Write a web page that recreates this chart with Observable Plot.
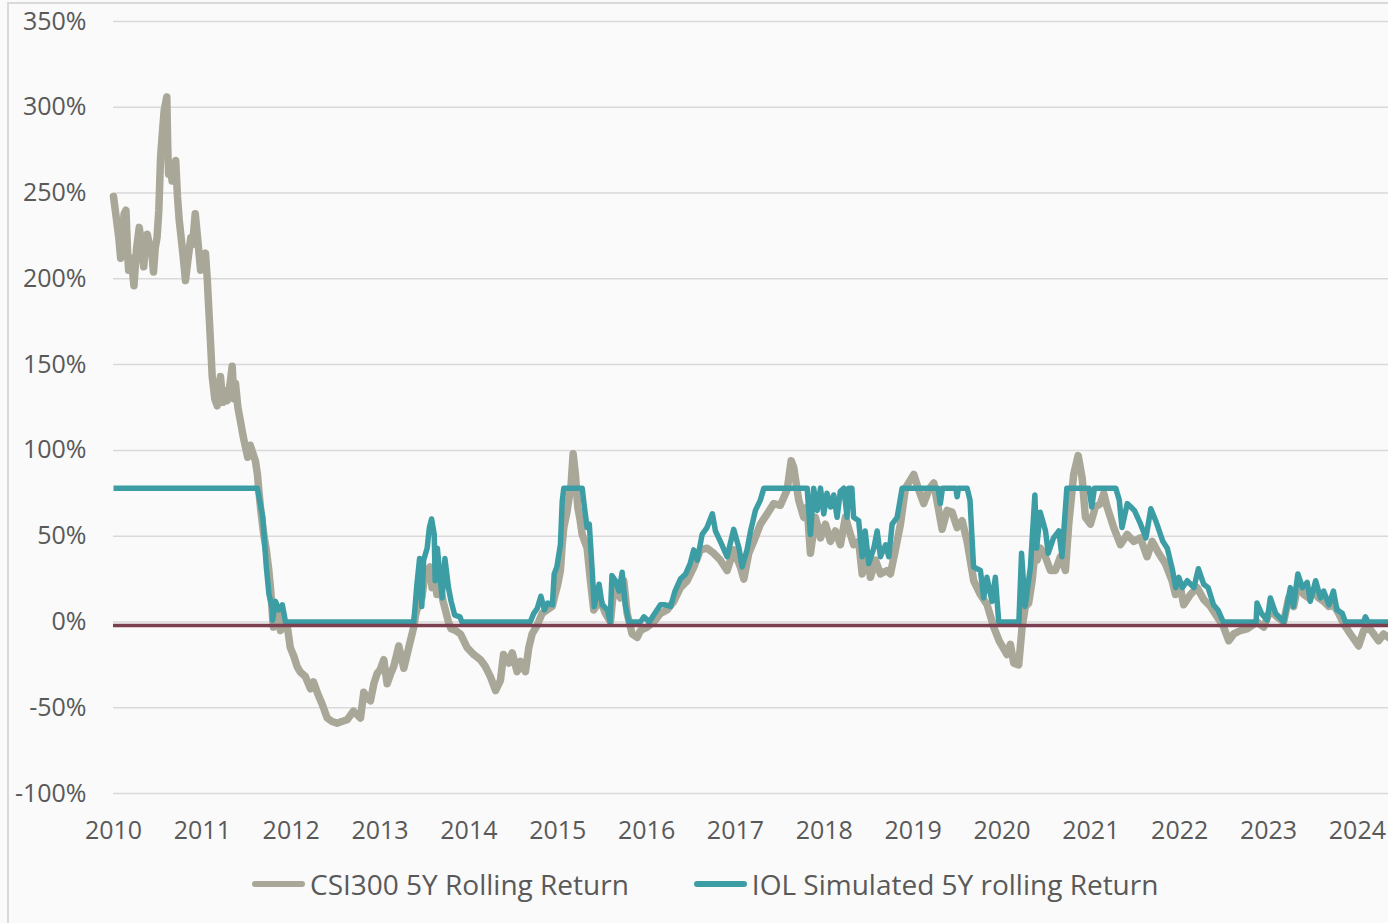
<!DOCTYPE html>
<html><head><meta charset="utf-8">
<script src="https://cdn.jsdelivr.net/npm/d3@7"></script>
<script src="https://cdn.jsdelivr.net/npm/@observablehq/plot@0.6"></script>
<style>
html,body{margin:0;padding:0;background:#fafafa;width:1388px;height:923px;overflow:hidden;font-family:"Open Sans",sans-serif;}
#frame-left{position:absolute;left:7px;top:3px;width:2px;height:920px;background:#d9d9d9}
#frame-top{position:absolute;left:7px;top:2px;width:1381px;height:2px;background:#d9d9d9}
#chart{position:absolute;left:0;top:0}
#legend{position:absolute;top:866px;left:252px;display:flex;align-items:center;font-size:28px;color:#595959;height:36px;white-space:nowrap}
.sw{width:53px;height:6px;border-radius:3px;margin-right:5px}
</style></head>
<body>
<div id="frame-left"></div><div id="frame-top"></div>
<div id="chart"></div>
<div id="legend"></div>
<script>
const seriesNames = ["CSI300 5Y Rolling Return", "IOL Simulated 5Y rolling Return"];
const yTicks = [-100, -50, 0, 50, 100, 150, 200, 250, 300, 350];
const yearTicks = [2010,2011,2012,2013,2014,2015,2016,2017,2018,2019,2020,2021,2022,2023,2024];
const baseline = [-2];

const csiYears = [
2010.00,2010.02,2010.04,2010.06,2010.08,2010.10,2010.12,2010.14,2010.16,2010.17,2010.20,2010.23,2010.26,2010.29,2010.31,2010.34,2010.36,2010.38,2010.41,2010.43,2010.45,2010.47,2010.49,2010.51,2010.53,2010.55,2010.57,2010.60,2010.61,2010.62,2010.64,2010.66,2010.68,2010.70,2010.72,2010.74,2010.77,2010.79,2010.81,2010.84,2010.87,2010.89,2010.92,2010.95,2010.98,
2011.01,2011.035,2011.055,2011.072,2011.09,2011.111,2011.14,2011.167,2011.19,2011.204,2011.23,2011.25,2011.28,2011.31,2011.336,2011.355,2011.373,2011.40,2011.429,2011.46,2011.485,2011.51,2011.54,2011.57,2011.597,2011.62,2011.635,2011.66,2011.691,2011.72,2011.748,2011.77,2011.79,2011.80,2011.82,2011.84,2011.86,2011.88,2011.90,2011.93,2011.96,2011.99,
2012.03,2012.067,2012.10,2012.161,2012.217,2012.251,2012.30,2012.349,2012.405,2012.46,2012.517,2012.57,2012.63,2012.70,2012.74,2012.78,2012.817,2012.85,2012.892,2012.93,2012.968,
2013.00,2013.042,2013.08,2013.12,2013.154,2013.211,2013.267,2013.323,2013.379,2013.40,2013.43,2013.45,2013.47,2013.50,2013.53,2013.56,2013.585,2013.61,2013.64,2013.67,2013.71,2013.74,2013.77,2013.80,2013.85,2013.905,2013.98,
2014.055,2014.13,2014.186,2014.243,2014.30,2014.355,2014.39,2014.45,2014.487,2014.543,2014.58,2014.636,2014.674,2014.712,2014.768,2014.824,2014.88,2014.937,2014.97,
2015.00,2015.03,2015.05,2015.068,2015.10,2015.124,2015.15,2015.173,2015.199,2015.225,2015.25,2015.275,2015.331,2015.368,2015.405,2015.44,2015.481,2015.537,2015.593,2015.63,2015.706,2015.743,2015.781,2015.837,2015.894,2015.931,
2016.006,2016.081,2016.156,2016.231,2016.306,2016.381,2016.456,2016.531,2016.606,2016.681,2016.756,2016.831,2016.906,2016.981,
2017.056,2017.094,2017.15,2017.206,2017.281,2017.357,2017.431,2017.506,2017.582,2017.627,2017.656,2017.712,2017.768,2017.807,2017.844,2017.90,2017.957,
2018.012,2018.069,2018.125,2018.181,2018.238,2018.294,2018.331,2018.387,2018.426,2018.482,2018.519,2018.576,2018.632,2018.707,2018.744,2018.80,2018.857,2018.913,
2019.007,2019.063,2019.119,2019.175,2019.232,2019.288,2019.326,2019.382,2019.438,2019.495,2019.551,2019.607,2019.682,2019.757,2019.832,2019.907,2019.968,
2020.057,2020.094,2020.132,2020.188,2020.226,2020.263,2020.30,2020.339,2020.37,2020.395,2020.432,2020.488,2020.545,2020.601,2020.657,2020.714,2020.751,2020.807,2020.857,2020.902,2020.939,2020.995,
2021.051,2021.108,2021.145,2021.183,2021.258,2021.333,2021.408,2021.483,2021.558,2021.633,2021.69,2021.764,2021.839,2021.915,2021.952,
2022.008,2022.045,2022.121,2022.196,2022.271,2022.346,2022.421,2022.495,2022.552,2022.608,2022.683,2022.758,2022.814,2022.871,2022.945,
2023.02,2023.095,2023.17,2023.227,2023.283,2023.339,2023.396,2023.452,2023.508,2023.564,2023.621,2023.677,2023.733,2023.789,2023.845,2023.92,
2024.014,2024.07,2024.127,2024.183,2024.239,2024.295,2024.35];
const csiValues = [
248,240,232,224,212,226,238,240,214,205,212,196,218,230,222,207,220,226,218,216,204,218,224,240,271,285,298,306,278,261,265,257,265,269,248,234,220,210,199,212,224,220,238,222,205,
212,215,200,183,165,143,130,126,138,143,128,135,129,138,149,130,139,125,117,108,102,96,103,98,94,86,77,64,51,42,30,18,3,-3,7,4,1,-5,5,-3,-4,-15,
-20,-26,-29,-32,-39,-35,-42,-48,-56,-58,-59,-58,-57,-52,-54,-56,-41,-44,-46,-36,-30,
-28,-22,-36,-30,-26,-14,-27,-15,-3,4,10,18,14,26,30,32,20,26,16,22,12,6,0,-4,-5,-7,-15,
-19,-22,-26,-32,-40,-34,-19,-24,-18,-29,-23,-29,-15,-7,-2,5,7,9,16,
22,30,45,55,63,71,80,98,86,67,60,51,43,24,7,10,12,5,0,20,14,24,5,-7,-9,-5,
-3,0,5,7,12,20,24,32,42,43,40,36,30,42,
32,25,40,47,57,63,69,68,77,94,90,71,61,67,40,61,49,
57,47,53,45,61,51,45,47,28,40,26,36,28,30,28,42,57,78,
86,77,69,77,81,65,54,65,64,55,59,47,24,16,10,-3,-11,
-19,-13,-24,-25,-3,9,11,24,40,36,43,38,30,30,38,30,57,86,97,84,61,57,
67,69,75,67,55,45,51,47,49,38,47,40,34,24,16,
20,10,16,20,13,9,3,-3,-11,-7,-5,-4,-2,0,-3,
7,3,0,14,9,24,16,14,18,14,12,9,10,5,-1,-7,
-14,-5,-3,-7,-11,-7,-9];

const iolYears = [
2010.00,2011.62,2011.68,2011.72,2011.75,2011.786,2011.79,2011.823,2011.86,2011.90,2011.936,
2013.38,2013.415,2013.445,2013.47,2013.49,2013.53,2013.555,2013.58,2013.61,2013.62,2013.645,2013.675,2013.70,2013.73,2013.77,2013.80,2013.84,2013.90,2013.92,
2014.69,2014.73,2014.77,2014.81,2014.85,2014.885,2014.94,2014.96,2014.99,2015.03,2015.05,2015.068,
2015.275,2015.30,2015.33,2015.355,2015.39,2015.41,2015.465,2015.50,2015.56,2015.59,2015.61,2015.65,2015.69,2015.725,2015.76,2015.80,2015.93,2015.97,
2016.03,2016.08,2016.156,2016.21,2016.27,2016.32,2016.38,2016.44,2016.49,2016.53,2016.57,2016.625,2016.68,2016.74,2016.775,2016.83,2016.906,2016.98,
2017.04,2017.075,2017.13,2017.17,2017.225,2017.28,2017.32,2017.807,2017.844,2017.88,2017.92,2017.957,2017.994,
2018.03,2018.07,2018.106,2018.144,2018.18,2018.22,2018.256,2018.275,2018.31,2018.33,2018.387,2018.426,2018.46,2018.50,2018.557,2018.595,2018.632,2018.69,2018.726,2018.763,2018.82,2018.876,
2019.28,2019.306,2019.33,2019.48,2019.495,2019.51,2019.607,2019.64,2019.68,2019.757,2019.794,2019.83,2019.888,2019.925,2019.963,
2020.19,2020.22,2020.26,2020.32,2020.37,2020.39,2020.43,2020.49,2020.52,2020.58,2020.64,2020.675,2020.73,2020.98,
2021.01,2021.04,2021.28,2021.32,2021.35,2021.41,2021.49,2021.56,2021.62,2021.675,2021.73,2021.81,2021.86,2021.92,2021.955,2021.99,
2022.03,2022.085,2022.16,2022.21,2022.27,2022.32,2022.38,2022.43,2022.49,2022.86,2022.87,2022.92,2022.985,
2023.02,2023.08,2023.17,2023.21,2023.245,2023.28,2023.33,2023.38,2023.435,2023.47,2023.53,2023.585,2023.62,2023.68,2023.73,2023.77,2023.83,2023.865,
2024.07,2024.09,2024.12,2024.35];
const iolValues = [
78,78,61,32,16,8,1,12,7,10,0,
0,22,37,9,36,43,55,60,51,24,43,26,14,37,20,12,4,3,0,
0,5,8,15,7,11,10,28,32,45,70,78,
78,67,55,57,28,9,22,10,7,0,27,24,18,29,10,0,0,3,
0,4,10,10,9,18,25,28,34,42,36,51,55,63,53,47,38,54,
43,32,42,53,65,71,78,78,51,78,65,78,63,
75,67,74,61,76,78,61,78,78,61,59,38,53,34,43,53,38,45,38,57,61,78,
78,69,78,78,73,78,78,71,32,30,14,26,12,26,0,
0,40,9,32,74,43,64,53,40,49,53,38,78,78,
67,78,78,71,55,69,65,57,49,66,59,47,43,30,20,26,
20,24,20,31,22,20,10,7,0,0,11,5,1,
14,5,0,10,20,9,28,20,23,12,24,14,18,10,18,7,5,0,
0,3,0,0];

const csiRows = csiYears.map((y, i) => ({year: y, value: csiValues[i]}));
const iolRows = iolYears.map((y, i) => ({year: y, value: iolValues[i]}));

const grey = "#a9a797", teal = "#3c9ea4";

const chart = Plot.plot({
  width: 1388, height: 860,
  marginLeft: 113, marginRight: 0, marginTop: 21, marginBottom: 67,
  style: {background: "transparent", fontFamily: "'Open Sans', sans-serif", fontSize: "25px", color: "#595959", overflow: "visible"},
  x: {domain: [2010, 2024.35], label: null},
  y: {domain: [-100, 350], label: null},
  marks: [
    Plot.ruleY(yTicks, {stroke: "#d9d9d9", strokeWidth: 1.5}),
    Plot.line(csiRows, {x: "year", y: "value", stroke: grey, strokeWidth: 7.5, strokeLinejoin: "round", strokeLinecap: "round"}),
    Plot.line(iolRows, {x: "year", y: "value", stroke: teal, strokeWidth: 5.5, strokeLinejoin: "round", strokeLinecap: "butt"}),
    Plot.ruleY(baseline, {stroke: "#7b3f4f", strokeWidth: 3.5}),
    Plot.axisX({ticks: yearTicks, tickFormat: d => String(d), tickSize: 0, tickPadding: 28, fill: "#595959", label: null}),
    Plot.axisY({ticks: yTicks, tickFormat: d => d + "%", tickSize: 0, tickPadding: 27, fill: "#595959", label: null})
  ]
});
document.getElementById("chart").appendChild(chart);

const legend = document.getElementById("legend");
[[seriesNames[0], grey], [seriesNames[1], teal]].forEach(([name, color], i) => {
  const sw = document.createElement("div");
  sw.className = "sw";
  sw.style.background = color;
  if (i > 0) sw.style.marginLeft = "65px";
  const t = document.createElement("span");
  t.textContent = name;
  legend.appendChild(sw);
  legend.appendChild(t);
});
</script>
</body></html>
